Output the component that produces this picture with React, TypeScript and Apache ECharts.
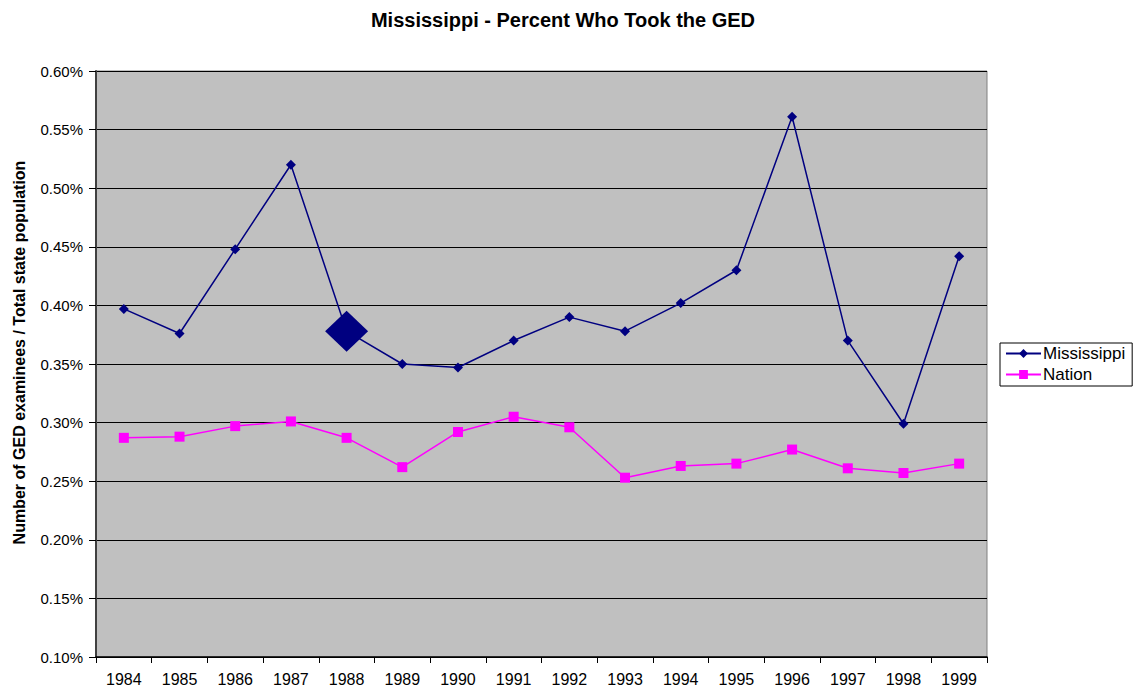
import React, { useEffect, useRef } from "react";
import * as echarts from "echarts";

const years = ["1984","1985","1986","1987","1988","1989","1990","1991","1992","1993","1994","1995","1996","1997","1998","1999"];
const mississippi = [0.397, 0.376, 0.448, 0.520, 0.378, 0.350, 0.347, 0.370, 0.390, 0.378, 0.402, 0.430, 0.561, 0.370, 0.299, 0.442];
const nation = [0.287, 0.288, 0.297, 0.301, 0.287, 0.262, 0.292, 0.305, 0.296, 0.253, 0.263, 0.265, 0.277, 0.261, 0.257, 0.265];
const highlightIndex = 4;

export default function App() {
  const ref = useRef<HTMLDivElement>(null);
  useEffect(() => {
    if (!ref.current) return;
    const chart = echarts.init(ref.current, null, { renderer: "svg" });
    const font = "Liberation Sans";
    chart.setOption({
      animation: false,
      backgroundColor: "#ffffff",
      textStyle: { fontFamily: font, fontSize: 14 },
      title: {
        text: "Mississippi - Percent Who Took the GED",
        left: 558,
        textAlign: "center",
        top: 5,
        textStyle: { fontFamily: font, fontSize: 20, fontWeight: "bold", color: "#000" },
      },
      legend: {
        orient: "vertical",
        left: 1000,
        top: 343,
        backgroundColor: "#ffffff",
        borderColor: "#000",
        borderWidth: 1,
        borderRadius: 0,
        padding: [2, 7, 3, 5],
        itemGap: 4,
        itemWidth: 35,
        itemHeight: 11,
        textStyle: { fontFamily: font, fontSize: 17, color: "#000", padding: [0, 0, 0, -3] },
        data: [{ name: "Mississippi" }, { name: "Nation" }],
      },
      grid: {
        left: 96,
        right: 148,
        top: 71,
        bottom: 33,
        show: true,
        backgroundColor: "#C0C0C0",
        borderColor: "#808080",
        borderWidth: 1,
        containLabel: false,
      },
      xAxis: {
        type: "category",
        data: years,
        boundaryGap: true,
        axisLine: { show: true, lineStyle: { color: "#000", width: 1.5 } },
        axisTick: { show: true, alignWithLabel: false, length: 6, lineStyle: { color: "#000" } },
        axisLabel: { fontFamily: font, fontSize: 16, color: "#000", margin: 14 },
        splitLine: { show: false },
      },
      yAxis: {
        type: "value",
        min: 0.1,
        max: 0.6,
        interval: 0.05,
        axisLine: { show: true, lineStyle: { color: "#404040", width: 2 } },
        axisTick: { show: true, length: 7, lineStyle: { color: "#000" } },
        axisLabel: {
          fontFamily: font,
          fontSize: 15,
          color: "#000",
          margin: 13,
          formatter: (v: number) => v.toFixed(2) + "%",
        },
        splitLine: { show: true, lineStyle: { color: "#000", width: 1 } },
        name: "Number of GED examinees / Total state population",
        nameLocation: "middle",
        nameGap: 69,
        nameTextStyle: {
          fontFamily: font,
          fontSize: 16,
          fontWeight: "bold",
          color: "#000",
          padding: [0, 0, 0, 23],
        },
      },
      series: [
        {
          name: "Mississippi",
          type: "line",
          data: mississippi.map((v, i) =>
            i === highlightIndex ? { value: v, symbolSize: [43, 41] } : v
          ),
          symbol: "diamond",
          symbolSize: 10,
          showAllSymbol: true,
          itemStyle: { color: "#000080" },
          lineStyle: { color: "#000080", width: 1.5 },
          z: 3,
        },
        {
          name: "Nation",
          type: "line",
          data: nation,
          symbol: "rect",
          symbolSize: 10,
          showAllSymbol: true,
          itemStyle: { color: "#FF00FF" },
          lineStyle: { color: "#FF00FF", width: 1.5 },
          z: 2,
        },
      ],
    });
    return () => chart.dispose();
  }, []);
  return <div ref={ref} style={{ width: 1135, height: 690, position: "absolute", left: 0, top: 0 }} />;
}
